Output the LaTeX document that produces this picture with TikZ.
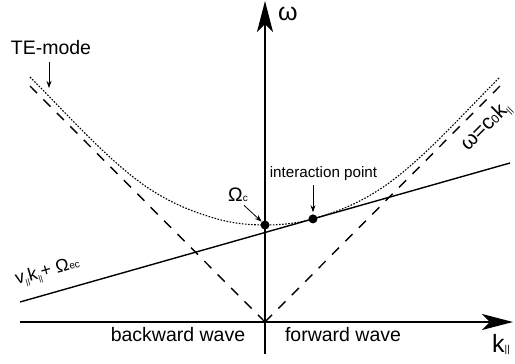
\documentclass[tikz,border=0pt]{standalone}
\usepackage{fontspec}
\setmainfont{Liberation Sans}
\usetikzlibrary{arrows.meta}
\begin{document}
\begin{tikzpicture}[x=1pt,y=1pt,
  axis/.style={line width=1.6pt,-{Stealth[length=31pt,width=16pt,inset=8pt]}},
  asym/.style={line width=1.4pt,dash pattern=on 10pt off 9pt},
  mode/.style={line width=1.1pt,dash pattern=on 1.6pt off 1.5pt},
  beam/.style={line width=1.4pt},
  dotpt/.style={circle,fill=black,inner sep=0pt,minimum size=9pt},
  note/.style={line width=0.8pt,-{Stealth[length=7pt,width=5pt]}},
  lbl/.style={inner sep=0pt,font=\fontsize{19.5}{22}\selectfont},
]
\useasboundingbox (-265,-42) rectangle (250,322);
% axes
\coordinate (O) at (0,0);
\coordinate (xs) at (-245,0);
\coordinate (xe) at (248,0);
\coordinate (ys) at (0,-32);
\coordinate (ye) at (0,321);
\draw[axis] (xs) -- (xe);
\draw[axis] (ys) -- (ye);
% light lines
\coordinate (aL) at (-235,236);
\coordinate (aR) at (235,236);
\draw[asym] (O) -- (aL);
\draw[asym] (O) -- (aR);
% beam line
\coordinate (bL) at (-245,20);
\coordinate (bR) at (245,159);
\draw[beam] (bL) -- (bR);
% TE mode
\draw[mode] (-235,245) .. controls (-199,209) and (-164,169.4) .. (-128,142)
  .. controls (-101,121.5) and (-75,110.8) .. (-48,103.1)
  .. controls (-32,98.56) and (-16,97) .. (0,97)
  .. controls (16,97) and (32,98.56) .. (48,103.1)
  .. controls (75,110.8) and (101,121.5) .. (128,142)
  .. controls (164,169.4) and (199,209) .. (235,245);
% points
\node[dotpt] (wc) at (0,97) {};
\node[dotpt] (ip) at (48,103.1) {};
% labels
\node[lbl,anchor=base] (te) at (-214,267) {TE-mode};
\coordinate (teT) at (-216,234);
\draw[note,shorten <=7pt] (te.south -| teT) -- (teT);
\node[anchor=base,inner sep=0pt,font=\fontsize{15.2}{17}\selectfont] (ipl) at (58.5,144) {interaction point};
\draw[note,shorten <=4pt,shorten >=2pt] (ipl.south -| ip) -- (ip.north);
\node[lbl,anchor=base west] (wcl) at (-37,120) {Ω{\fontsize{10}{12}\selectfont c}};
\draw[note] ([xshift=-4pt,yshift=-3pt]wcl.south east) -- (wc.135);
\node[lbl,anchor=base] (bw) at (-87,-20) {backward wave};
\node[lbl,anchor=base] (fw) at (78,-20) {forward wave};
\node[anchor=base,inner sep=0pt,font=\fontsize{25}{28}\selectfont] (wax) at (23,301) {ω};
\node[anchor=base west,inner sep=0pt,font=\fontsize{25}{28}\selectfont] (kax) at (227,-31) {k{\fontsize{10}{10}\selectfont ||}};
\node[anchor=base west,inner sep=0pt,rotate=45,font=\fontsize{21}{24}\selectfont] (disp) at (203,170) {ω=c{\fontsize{12}{12}\selectfont 0}k\raisebox{-3pt}{\fontsize{9}{9}\selectfont ||}};
\node[anchor=base west,inner sep=0pt,rotate=16,font=\fontsize{18}{20}\selectfont] (beq) at (-248,37) {v\raisebox{-3pt}{\fontsize{8}{8}\selectfont ||}k\raisebox{-3pt}{\fontsize{8}{8}\selectfont ||}+ Ω{\fontsize{10}{10}\selectfont ec}};
\end{tikzpicture}
\end{document}
